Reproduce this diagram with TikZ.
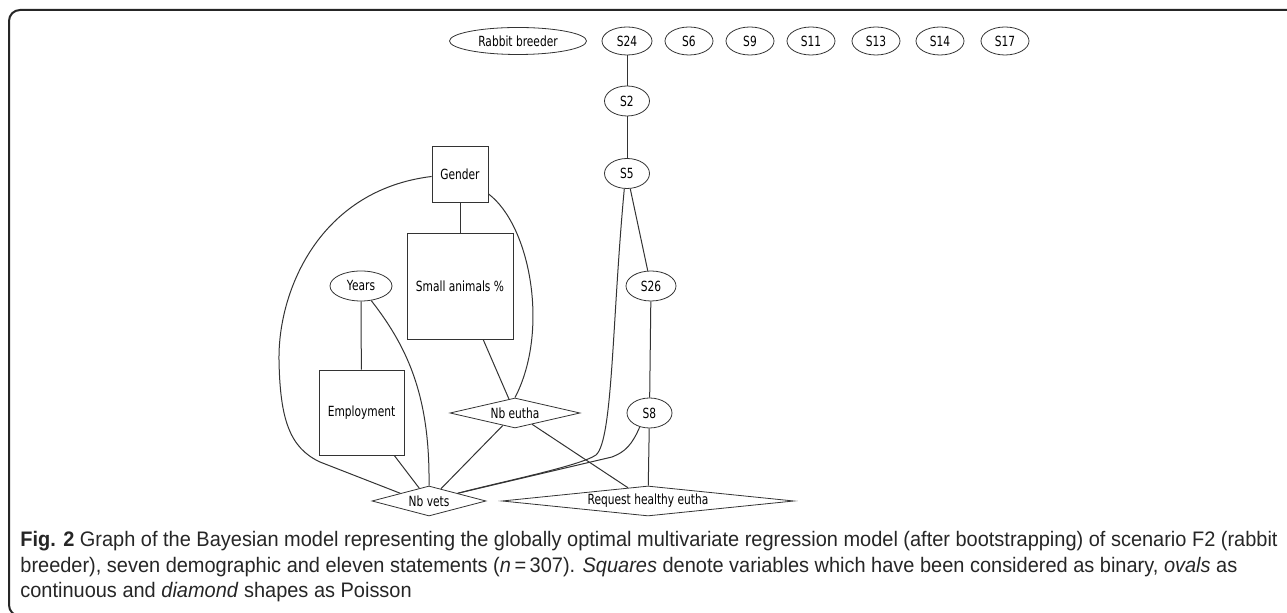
\documentclass[tikz,border=0pt]{standalone}
\usepackage{fontspec}
\usetikzlibrary{shapes.geometric}
\newfontfamily\nodefont[FakeStretch=0.76]{DejaVu Sans}
\newfontfamily\capfont[FakeStretch=0.951]{Liberation Sans}
\tikzset{
  oval/.style={ellipse, draw=black!80, inner sep=0pt,
               minimum width=24pt, minimum height=14pt,
               font=\nodefont\fontsize{7}{8}\selectfont},
  binbox/.style={rectangle, draw=black!80, inner sep=0pt,
                 font=\nodefont\fontsize{7}{8}\selectfont},
  poisson/.style={diamond, draw=black!80, inner sep=0pt,
                  minimum height=15pt},
  lbl/.style={inner sep=0pt, font=\nodefont\fontsize{7}{8}\selectfont},
  link/.style={draw=black!80, line width=0.5pt},
  captext/.style={anchor=base west, inner sep=0pt, text=black!85,
                  font=\capfont\fontsize{10.5}{12}\selectfont}
}
\begin{document}
\begin{tikzpicture}[x=0.5pt,y=-0.5pt]
    \useasboundingbox (0,0) rectangle (1287,613);
    \clip (0,0) rectangle (1287,613);
    % frame
    \draw[line width=1pt, black!85, rounded corners=5.5pt]
        (1300,10) -- (9,10) -- (9,616) -- (40,616);
    % top row
    \node[oval, minimum width=68.5pt, minimum height=13.5pt] (rabbit) at (518,41) {Rabbit breeder};
    \node[oval, minimum width=25pt] (s24) at (627,41) {S24};
    \foreach \s/\x in {6/689,9/750,11/811,13/876,14/940,17/1005}
        \node[oval] (s\s) at (\x,41) {S\s};
    % statements
    \node[oval, minimum width=22.5pt, minimum height=15pt] (s2) at (627,101) {S2};
    \node[oval, minimum width=22.5pt, minimum height=15pt] (s5) at (627,173.5) {S5};
    \node[oval, minimum width=25pt, minimum height=15pt] (s26) at (651,286) {S26};
    \node[oval, minimum width=22.5pt, minimum height=15pt] (s8) at (649.5,413) {S8};
    % demographic
    \node[binbox, minimum size=28pt] (gender) at (460,174) {Gender};
    \node[binbox, minimum size=53pt] (small) at (460,286) {Small animals \%};
    \node[oval, minimum width=31pt, minimum height=15pt] (years) at (361,286) {Years};
    \node[binbox, minimum size=42.5pt] (employ) at (361.5,412.5) {Employment};
    % counts
    \node[poisson, minimum width=65pt, label={[lbl]center:Nb eutha}] (nbeutha) at (515,413) {};
    \node[poisson, minimum width=57pt, label={[lbl]center:Nb vets}] (nbvets) at (429,501) {};
    \node[poisson, minimum width=146pt, label={[lbl]center:Request healthy eutha}] (rhe) at (648,501) {};
    % edges
    \draw[link] (s24) -- (s2);
    \draw[link] (s2) -- (s5);
    \draw[link] (s5) -- (s26);
    \draw[link] (s26) -- (s8);
    \draw[link] (s8) -- (rhe);
    \draw[link] (s5.-100) .. controls (612,320) and (613,440) .. (596,455)
        .. controls (580,466) and (500,482) .. (nbvets.north east);
    \draw[link] (s8.-125) .. controls (632,445) and (625,452) .. (612,457) -- (nbvets.north east);
    \draw[link] (gender) -- (small);
    \draw[link] (small) -- (nbeutha);
    \draw[link] (gender.-35) .. controls (530,225) and (550,330) .. (nbeutha.north);
    \draw[link] (gender.185) .. controls (320,190) and (278,290) .. (279,360)
        .. controls (280,420) and (290,448) .. (320,462) -- (nbvets.north west);
    \draw[link] (years) -- (employ);
    \draw[link] (years.-55) .. controls (410,350) and (430,400) .. (nbvets.north);
    \draw[link] (employ) -- (nbvets);
    \draw[link] (nbeutha) -- (nbvets);
    \draw[link] (nbeutha) -- (rhe);
    % caption
    \node[captext] (cap1) at (20,547) {\textbf{Fig. 2} Graph of the Bayesian model representing the globally optimal multivariate regression model (after bootstrapping) of scenario F2 (rabbit};
    \node[captext] (cap2) at (20,572.5) {breeder), seven demographic and eleven statements (\textit{n}\,=\,307). \textit{Squares} denote variables which have been considered as binary, \textit{ovals} as};
    \node[captext] (cap3) at (20,598) {continuous and \textit{diamond} shapes as Poisson};
\end{tikzpicture}
\end{document}
